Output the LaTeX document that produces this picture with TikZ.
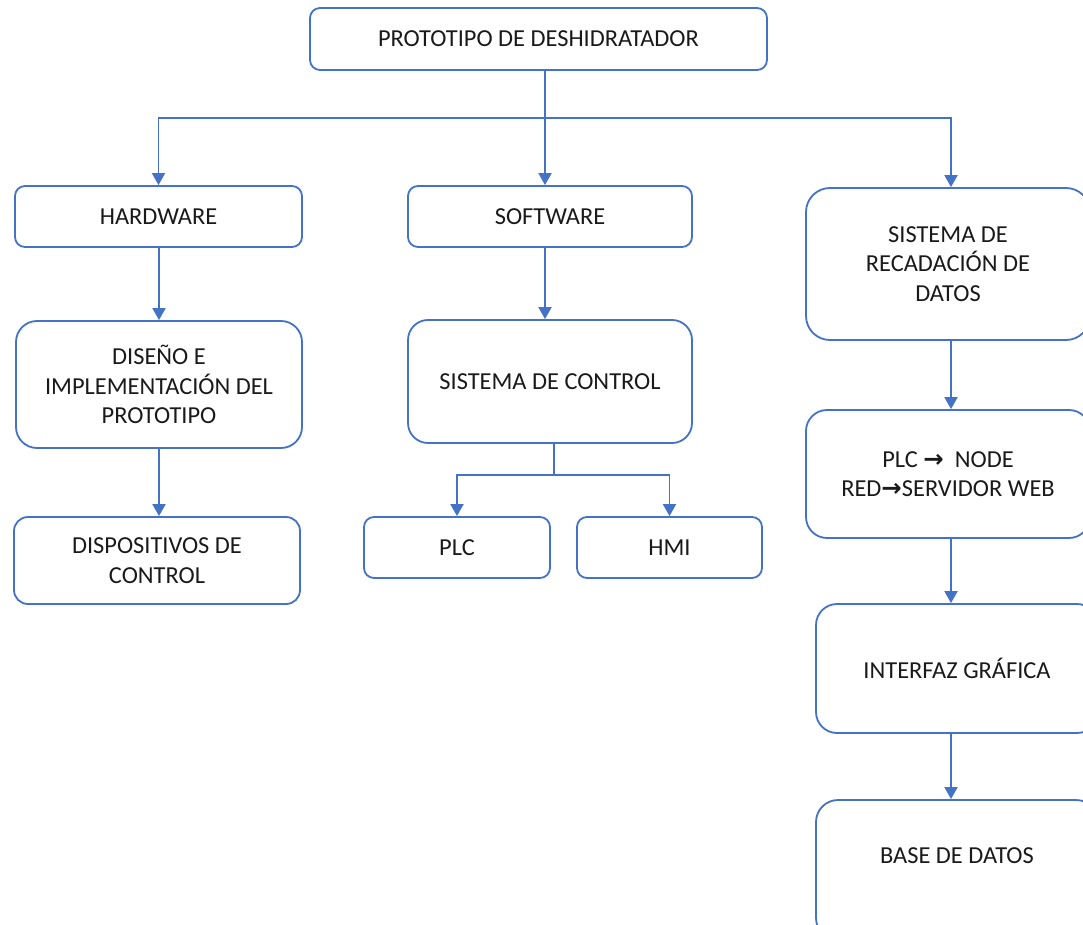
\documentclass[tikz,border=0pt]{standalone}
\usepackage{fontspec}
\setmainfont{Carlito}
\newfontfamily\symfont{DejaVu Sans}
\usetikzlibrary{arrows.meta}
\definecolor{wordblue}{HTML}{4472C4}
\definecolor{ink}{HTML}{1A1A1A}
\tikzset{
  box/.style={draw=wordblue, line width=1.8pt, fill=white, align=center,
    text=ink, inner sep=0pt, font=\fontsize{24.4}{29.5}\selectfont},
  link/.style={draw=wordblue, line width=1.8pt},
  arr/.style={link, -{Triangle[length=12pt,width=13pt]}},
}
\newcommand{\rarrow}{{\symfont\bfseries →}}
\begin{document}
\begin{tikzpicture}[x=1pt,y=-1pt]
\clip (0,0) rectangle (1083,925);
\fill[white] (0,0) rectangle (1083,925);

% root
\node[box, minimum width=457pt, minimum height=62pt, rounded corners=10pt] (top) at (538.5,39) {PROTOTIPO DE DESHIDRATADOR};

% first level
\node[box, minimum width=287pt, minimum height=61pt, rounded corners=10pt] (hw) at (158.5,216.5) {HARDWARE};
\node[box, minimum width=284pt, minimum height=61pt, rounded corners=10pt] (sw) at (550,216.5) {SOFTWARE};
\node[box, minimum width=284pt, minimum height=152pt, rounded corners=24pt] (rec) at (948,264) {SISTEMA DE\\RECADACIÓN DE\\DATOS};

% hardware branch
\node[box, minimum width=286pt, minimum height=127pt, rounded corners=21pt] (dis) at (159,384.5) {DISEÑO E\\IMPLEMENTACIÓN DEL\\PROTOTIPO};
\node[box, minimum width=286pt, minimum height=87pt, rounded corners=14pt] (dev) at (157,560.5) {DISPOSITIVOS DE\\CONTROL};

% software branch
\node[box, minimum width=284pt, minimum height=123pt, rounded corners=20pt] (ctl) at (550,381.5) {SISTEMA DE CONTROL};
\node[box, minimum width=186pt, minimum height=61pt, rounded corners=10pt] (plc) at (457,547.5) {PLC};
\node[box, minimum width=185pt, minimum height=61pt, rounded corners=10pt] (hmi) at (669.5,547.5) {HMI};

% data branch
\node[box, minimum width=284pt, minimum height=128pt, rounded corners=21pt] (node) at (948,474) {PLC \rarrow\ \ NODE\\RED\rarrow SERVIDOR WEB};
\node[box, minimum width=282pt, minimum height=129pt, rounded corners=21pt] (gui) at (957,668.5) {INTERFAZ GRÁFICA};
\node[box, minimum width=282pt, minimum height=140pt, rounded corners=22pt, text depth=28pt] (db) at (957,870) {BASE DE DATOS};

% junctions
\coordinate (j0) at (545,118);
\coordinate (j1) at (554,475);
\coordinate (rx) at (951,0);

% connectors
\draw[link] (top.south -| j0) -- (j0);
\draw[arr] (j0) -- (sw.north -| j0);
\draw[arr] (j0) -| (hw.north);
\draw[arr] (j0) -| (rec.north -| rx);

\draw[arr] (hw.south -| dis.north) -- (dis.north);
\draw[arr] (dis.south) -- (dis.south |- dev.north);

\draw[arr] (sw.south -| j0) -- (ctl.north -| j0);
\draw[link] (ctl.south -| j1) -- (j1);
\draw[arr] (j1) -| (plc.north);
\draw[arr] (j1) -| (hmi.north);

\draw[arr] (rec.south -| rx) -- (node.north -| rx);
\draw[arr] (node.south -| rx) -- (gui.north -| rx);
\draw[arr] (gui.south -| rx) -- (db.north -| rx);
\end{tikzpicture}
\end{document}
